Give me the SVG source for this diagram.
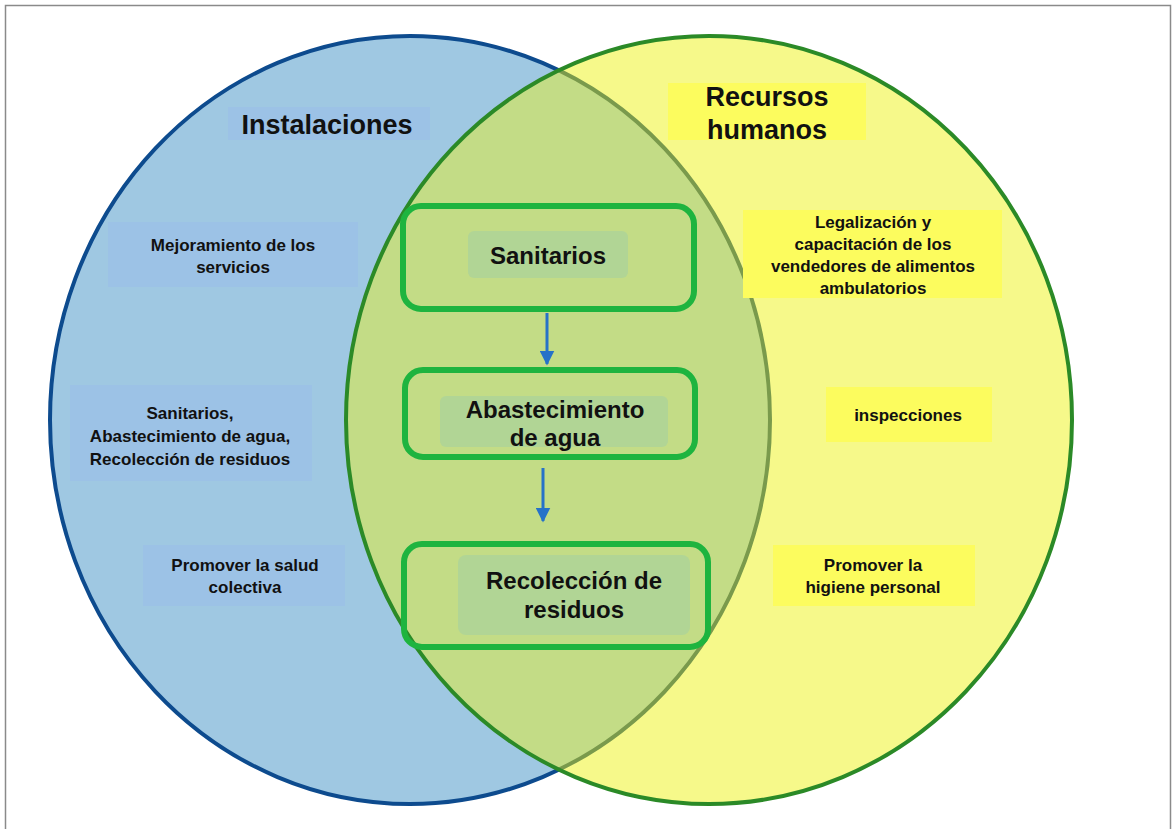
<svg xmlns="http://www.w3.org/2000/svg" width="1176" height="829" viewBox="0 0 1176 829">
<style>
.t{font-family:"Liberation Sans",Arial,sans-serif;font-weight:bold;fill:#111;text-anchor:middle}
.s{font-size:17px}
.m{font-size:24px}
.l{font-size:27px}
.bb{fill:#9cc2e6}
.yb{fill:#fcfc5e}
.gb{fill:#b1d595}
.box{fill:none;stroke:#1eb43f;stroke-width:6}
.arr{stroke:#2672c8;stroke-width:3;fill:none}
</style>
<defs>
<clipPath id="yclip"><ellipse cx="709" cy="420" rx="363" ry="384"/></clipPath>
<marker id="ah" viewBox="0 0 10 10" refX="9" refY="5" markerWidth="5" markerHeight="5" orient="auto" markerUnits="strokeWidth">
<path d="M0,0 L10,5 L0,10 Z" fill="#2672c8"/>
</marker>
</defs>
<rect x="0" y="0" width="1176" height="829" fill="#fff"/>
<rect x="5.5" y="5.5" width="1165" height="840" fill="none" stroke="#8a8a8a" stroke-width="1.5"/>
<g id="sets">
<ellipse cx="410" cy="420" rx="360" ry="384" fill="#9fc8e2" stroke="#0d4b8e" stroke-width="4"/>
<ellipse cx="709" cy="420" rx="363" ry="384" fill="#f6f98a"/>
<ellipse cx="410" cy="420" rx="360" ry="384" fill="#c3dc86" stroke="#7a9a4c" stroke-width="4" clip-path="url(#yclip)"/>
<ellipse cx="709" cy="420" rx="363" ry="384" fill="none" stroke="#2b8a27" stroke-width="4"/>
</g>
<g id="instalaciones">
<rect class="bb" x="228" y="107" width="202" height="33"/>
<text class="t l" x="327" y="134">Instalaciones</text>
</g>
<g id="mejoramiento">
<rect class="bb" x="108" y="222" width="250" height="65"/>
<text class="t s" x="233" y="251">Mejoramiento de los</text>
<text class="t s" x="233" y="273">servicios</text>
</g>
<g id="sanitarios-list">
<rect class="bb" x="70" y="385" width="242" height="96"/>
<text class="t s" x="190" y="419">Sanitarios,</text>
<text class="t s" x="190" y="442">Abastecimiento de agua,</text>
<text class="t s" x="190" y="465">Recolección de residuos</text>
</g>
<g id="salud">
<rect class="bb" x="143" y="545" width="202" height="61"/>
<text class="t s" x="245" y="571">Promover la salud</text>
<text class="t s" x="245" y="593">colectiva</text>
</g>
<g id="recursos">
<rect class="yb" x="668" y="83" width="198" height="57"/>
<text class="t l" x="767" y="106">Recursos</text>
<text class="t l" x="767" y="139">humanos</text>
</g>
<g id="legalizacion">
<rect class="yb" x="743" y="210" width="259" height="88"/>
<text class="t s" x="873" y="228">Legalización y</text>
<text class="t s" x="873" y="250">capacitación de los</text>
<text class="t s" x="873" y="272">vendedores de alimentos</text>
<text class="t s" x="873" y="294">ambulatorios</text>
</g>
<g id="inspecciones">
<rect class="yb" x="826" y="387" width="166" height="55"/>
<text class="t s" x="908" y="421">inspecciones</text>
</g>
<g id="higiene">
<rect class="yb" x="773" y="545" width="202" height="61"/>
<text class="t s" x="873" y="571">Promover la</text>
<text class="t s" x="873" y="593">higiene personal</text>
</g>
<g id="n-sanitarios">
<rect class="gb" x="468" y="231" width="160" height="47" rx="6"/>
<rect class="box" x="403" y="206" width="291" height="103" rx="18"/>
<text class="t m" x="548" y="264">Sanitarios</text>
</g>
<g id="n-agua">
<rect class="gb" x="440" y="396" width="228" height="51" rx="6"/>
<rect class="box" x="405" y="370" width="290" height="87" rx="18"/>
<text class="t m" x="555" y="418">Abastecimiento</text>
<text class="t m" x="555" y="446">de agua</text>
</g>
<g id="n-residuos">
<rect class="gb" x="458" y="555" width="232" height="80" rx="8"/>
<rect class="box" x="404" y="544" width="304" height="103" rx="18"/>
<text class="t m" x="574" y="589">Recolección de</text>
<text class="t m" x="574" y="618">residuos</text>
</g>
<g id="connectors">
<line class="arr" x1="547" y1="313" x2="547" y2="364" marker-end="url(#ah)"/>
<line class="arr" x1="543" y1="468" x2="543" y2="521" marker-end="url(#ah)"/>
</g>
</svg>
